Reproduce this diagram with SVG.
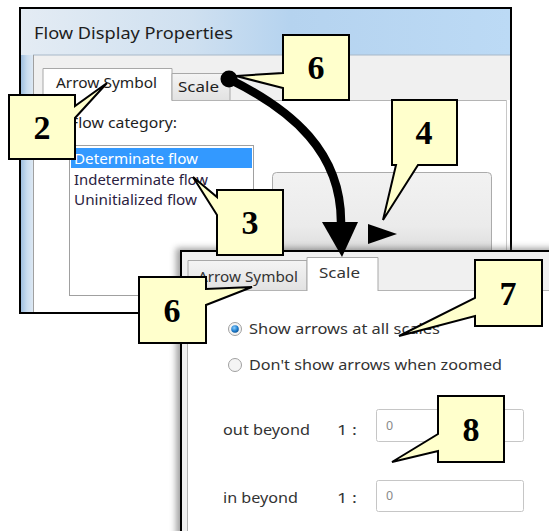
<svg xmlns="http://www.w3.org/2000/svg" width="549" height="531" viewBox="0 0 549 531">
  <defs>
    <linearGradient id="titleGrad" x1="0" y1="0" x2="1" y2="0">
      <stop offset="0" stop-color="#e4ecf4"/>
      <stop offset="0.35" stop-color="#cfe0f0"/>
      <stop offset="0.55" stop-color="#b5d3ef"/>
      <stop offset="1" stop-color="#bcdaf5"/>
    </linearGradient>
    <linearGradient id="frameGrad" x1="0" y1="0" x2="1" y2="0">
      <stop offset="0" stop-color="#9fbfdf"/>
      <stop offset="0.5" stop-color="#c9dcef"/>
      <stop offset="1" stop-color="#dde8f3"/>
    </linearGradient>
    <linearGradient id="btnGrad" x1="0" y1="0" x2="0" y2="1">
      <stop offset="0" stop-color="#f2f2f2"/>
      <stop offset="0.6" stop-color="#ebebeb"/>
      <stop offset="1" stop-color="#d6d6d6"/>
    </linearGradient>
    <linearGradient id="tabGrad" x1="0" y1="0" x2="0" y2="1">
      <stop offset="0" stop-color="#f4f4f4"/>
      <stop offset="1" stop-color="#e2e2e2"/>
    </linearGradient>
    <radialGradient id="radioDot" cx="0.4" cy="0.35" r="0.7">
      <stop offset="0" stop-color="#8fd0ff"/>
      <stop offset="0.6" stop-color="#1f7fcf"/>
      <stop offset="1" stop-color="#0b4f8f"/>
    </radialGradient>
    <filter id="shadow" x="-20%" y="-20%" width="140%" height="140%">
      <feGaussianBlur stdDeviation="3"/>
    </filter>
  </defs>
  <style>
    .ui { font-family: "Noto Sans", "Open Sans", sans-serif; fill: #1e1e1e; }
    .ui2 { font-family: "Noto Sans", "Open Sans", sans-serif; fill: #333333; }
    .num { font-family: "Liberation Serif", "Times New Roman", serif; font-weight: bold; font-size: 34px; fill: #000; text-anchor: middle; }
    .callout { fill: #ffffcc; stroke: #000; stroke-width: 2; stroke-linejoin: miter; }
    .frameLine { stroke: #000; stroke-width: 2; fill: none; }
    .edit { fill: #fff; stroke: #c6c6c6; stroke-width: 1; }
    .radio { fill: #f4f4f4; stroke: #a0a0a0; stroke-width: 1; }
  </style>

  <rect x="0" y="0" width="549" height="531" fill="#ffffff"/>

  <!-- Back dialog: Arrow Symbol page -->
  <g id="dialog-arrow-symbol">
    <rect x="20" y="8" width="491" height="305" fill="#ffffff"/>
    <rect x="21" y="9" width="489" height="46" fill="url(#titleGrad)"/>
    <rect x="21" y="55" width="12" height="257" fill="url(#frameGrad)"/>
    <rect x="33" y="55" width="477" height="45" fill="#f0f0f0"/>
    <line x1="33" y1="55" x2="510" y2="55" stroke="#a8b8c8" stroke-width="1"/>
    <line x1="33.5" y1="55" x2="33.5" y2="312" stroke="#a0a0a0" stroke-width="1"/>
    <line x1="33" y1="100.5" x2="506" y2="100.5" stroke="#b4b4b4" stroke-width="1"/>
    <line x1="506.5" y1="100" x2="506.5" y2="312" stroke="#c8c8c8" stroke-width="1"/>
    <text class="ui" x="34" y="39" font-size="15.5" textLength="199" lengthAdjust="spacingAndGlyphs">Flow Display Properties</text>

    <!-- tabs -->
    <path d="M43,101 V68.5 H172 V101" fill="#ffffff" stroke="#a8a8a8" stroke-width="1"/>
    <path d="M172,100 V73.5 H230 V100" fill="url(#tabGrad)" stroke="#a8a8a8" stroke-width="1"/>
    <text class="ui" x="56" y="88" font-size="14" textLength="101" lengthAdjust="spacingAndGlyphs">Arrow Symbol</text>
    <text class="ui" x="178" y="92" font-size="14" textLength="41" lengthAdjust="spacingAndGlyphs">Scale</text>

    <text class="ui" x="70" y="128" font-size="14" textLength="107" lengthAdjust="spacingAndGlyphs">Flow category:</text>

    <!-- category list -->
    <rect x="69.5" y="145.5" width="184" height="150" fill="#ffffff" stroke="#a0a0a0" stroke-width="1"/>
    <rect x="71" y="148" width="181" height="20" fill="#3399ff"/>
    <text class="ui" x="74" y="164" font-size="14.5" fill="#ffffff" style="fill:#ffffff" textLength="124" lengthAdjust="spacingAndGlyphs">Determinate flow</text>
    <text class="ui" x="74" y="185" font-size="14.5" style="fill:#2a2140" textLength="134" lengthAdjust="spacingAndGlyphs">Indeterminate flow</text>
    <text class="ui" x="74" y="205" font-size="14.5" style="fill:#2a2140" textLength="123" lengthAdjust="spacingAndGlyphs">Uninitialized flow</text>

    <!-- arrow preview -->
    <rect x="272.5" y="172.5" width="219" height="90" rx="4" fill="url(#btnGrad)" stroke="#ababab" stroke-width="1"/>
    <path d="M368,224 L397,234 L368,244 Z" fill="#000"/>

    <rect x="20" y="8" width="491" height="305" class="frameLine"/>
  </g>

  <!-- Front dialog: Scale page -->
  <g id="dialog-scale">
    <rect x="176" y="248" width="380" height="290" fill="#555" opacity="0.55" filter="url(#shadow)"/>
    <rect x="180" y="250" width="372" height="285" fill="#f0f0f0"/>
    <rect x="187" y="290" width="365" height="245" fill="#ffffff"/>
    <line x1="187.5" y1="290" x2="187.5" y2="535" stroke="#b4b4b4" stroke-width="1"/>
    <line x1="187" y1="290.5" x2="552" y2="290.5" stroke="#b4b4b4" stroke-width="1"/>
    <!-- tabs -->
    <path d="M188,290 V260.5 H307 V290" fill="url(#tabGrad)" stroke="#a8a8a8" stroke-width="1"/>
    <path d="M307,291 V257.5 H378 V291" fill="#ffffff" stroke="#a8a8a8" stroke-width="1"/>
    <text class="ui2" x="198" y="282" font-size="14" textLength="100" lengthAdjust="spacingAndGlyphs">Arrow Symbol</text>
    <text class="ui2" x="319" y="278" font-size="14" textLength="41" lengthAdjust="spacingAndGlyphs">Scale</text>

    <!-- display options -->
    <circle cx="235" cy="329" r="6.5" class="radio"/>
    <circle cx="235" cy="329" r="3.8" fill="url(#radioDot)"/>
    <text class="ui2" x="249" y="334" font-size="14.5" textLength="191" lengthAdjust="spacingAndGlyphs">Show arrows at all scales</text>
    <circle cx="235" cy="365" r="6.5" class="radio"/>
    <text class="ui2" x="249" y="370" font-size="14.5" textLength="253" lengthAdjust="spacingAndGlyphs">Don't show arrows when zoomed</text>

    <text class="ui2" x="223" y="435" font-size="14.5" textLength="87" lengthAdjust="spacingAndGlyphs">out beyond</text>
    <text class="ui2" x="337" y="435" font-size="14.5" textLength="20" lengthAdjust="spacingAndGlyphs">1 :</text>
    <rect x="376.5" y="409.5" width="147" height="32" rx="2" class="edit"/>
    <text class="ui2" x="386" y="430" font-size="12.5" style="fill:#8a8a8a">0</text>

    <text class="ui2" x="223" y="503" font-size="14.5" textLength="75" lengthAdjust="spacingAndGlyphs">in beyond</text>
    <text class="ui2" x="337" y="503" font-size="14.5" textLength="20" lengthAdjust="spacingAndGlyphs">1 :</text>
    <rect x="376.5" y="480.5" width="147" height="31" rx="2" class="edit"/>
    <text class="ui2" x="386" y="500" font-size="12.5" style="fill:#8a8a8a">0</text>

    <path d="M181,536 V251 H552" class="frameLine"/>
  </g>

  <!-- Connector: Scale tab of one dialog leads to the other -->
  <g id="connectors">
    <circle cx="229" cy="79" r="8.5" fill="#000"/>
    <path d="M229,79 C292,110 342,152 341,224" fill="none" stroke="#000" stroke-width="8.5" stroke-linecap="round"/>
    <path d="M322,222 L358,222 L342,257 Z" fill="#000"/>
  </g>

  <!-- Numbered callouts -->
  <g id="callout-2">
    <path class="callout" d="M9,95 H75 V106 L107,83 L75,118 V159 H9 Z"/>
    <text class="num" x="42" y="139">2</text>
  </g>
  <g id="callout-6a">
    <path class="callout" d="M283,35 H349 V100 H283 V88 L236,76 L283,73 Z"/>
    <text class="num" x="316" y="79">6</text>
  </g>
  <g id="callout-4">
    <path class="callout" d="M392,100 H457 V165 H418 L383,220 L396,165 H392 Z"/>
    <text class="num" x="424" y="144">4</text>
  </g>
  <g id="callout-3">
    <path class="callout" d="M217,190 H283 V255 H217 V215 L193,177 L217,197 Z"/>
    <text class="num" x="250" y="234">3</text>
  </g>
  <g id="callout-6b">
    <path class="callout" d="M139,277 H206 V289 L252,287 L206,305 V343 H139 Z"/>
    <text class="num" x="172" y="322">6</text>
  </g>
  <g id="callout-7">
    <path class="callout" d="M475,260 H542 V326 H475 V316 L399,336 L475,298 Z"/>
    <text class="num" x="508" y="305">7</text>
  </g>
  <g id="callout-8">
    <path class="callout" d="M438,396 H504 V462 H438 V451 L392,462 L438,434 Z"/>
    <text class="num" x="471" y="441">8</text>
  </g>
</svg>
